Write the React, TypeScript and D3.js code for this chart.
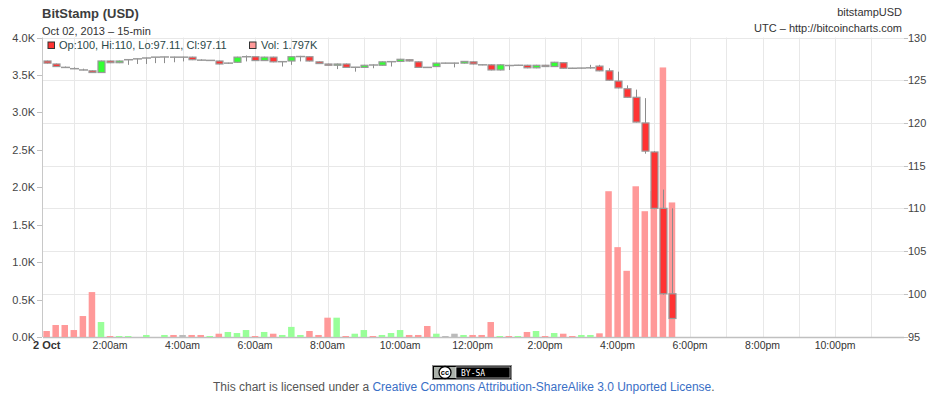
import * as React from 'react';
import * as d3 from 'd3';

// 15-min candles, Oct 02 2013, first one at 00:15 UTC
const firstCandle = Date.UTC(2013, 9, 2, 0, 15);
const candleStep = 15 * 60 * 1000;

const opens = [
  127.25, 126.9, 126.55, 126.45, 126.3, 126.1, 125.9, 127.25, 127.05, 127.35,
  127.45, 127.55, 127.65, 127.7, 127.72, 127.7, 127.7, 127.4, 127.3, 127.25,
  126.95, 127.1, 127.7, 127.75, 127.3, 127.7, 127.15, 127.25, 127.75, 127.75,
  127.15, 126.9, 126.75, 126.9, 126.5, 126.5, 126.8, 126.75, 127.15, 127.2,
  127.4, 127.15, 126.52, 126.6, 127.0, 127.0, 127.0, 127.15, 126.82, 126.8,
  126.2, 126.75, 126.72, 126.75, 126.45, 126.75, 126.6, 127.05, 126.42, 126.4,
  126.4, 126.65, 126.1, 124.9, 124.0, 123.0, 120.0, 116.6, 110.0, 100
];
const highs = [
  127.3, 126.95, 126.6, 126.5, 126.35, 126.15, 127.3, 127.3, 127.3, 127.45,
  127.55, 127.65, 127.7, 127.75, 127.75, 127.75, 127.75, 127.45, 127.35, 127.3,
  127.05, 127.75, 127.9, 127.8, 127.75, 127.75, 127.2, 127.8, 127.85, 127.8,
  127.2, 126.95, 126.95, 126.95, 126.55, 126.8, 126.85, 127.2, 127.2, 127.5,
  127.45, 127.2, 126.55, 127.05, 127.05, 127.05, 127.25, 127.2, 126.85, 126.85,
  126.85, 126.8, 126.8, 126.8, 126.8, 126.8, 127.15, 127.1, 126.45, 126.45,
  126.8, 126.8, 126.4, 126.0, 124.4, 123.9, 122.9, 116.7, 112.2, 110
];
const lows = [
  126.95, 126.55, 126.45, 126.3, 126.15, 125.85, 125.85, 127.0, 127.0, 126.8,
  126.9, 126.9, 127.0, 127.0, 127.1, 127.2, 127.35, 127.3, 127.25, 126.85,
  126.9, 127.05, 127.2, 127.25, 127.25, 127.1, 126.6, 126.8, 127.2, 127.2,
  126.9, 126.7, 126.3, 126.45, 126.0, 126.45, 126.4, 126.7, 126.6, 127.15,
  127.2, 126.45, 126.45, 126.55, 126.95, 126.5, 126.95, 126.85, 126.75, 126.15,
  126.15, 126.2, 126.7, 126.4, 126.4, 126.55, 126.55, 126.35, 126.35, 126.35,
  126.35, 126.05, 124.95, 124.05, 122.95, 120.05, 116.4, 109.9, 99.9, 97.11
];
const closes = [
  127.0, 126.6, 126.5, 126.35, 126.2, 125.9, 127.25, 127.05, 127.25, 127.4,
  127.5, 127.6, 127.7, 127.72, 127.7, 127.7, 127.4, 127.35, 127.32, 126.9,
  127.0, 127.7, 127.75, 127.3, 127.7, 127.15, 127.17, 127.75, 127.77, 127.25,
  126.95, 126.75, 126.9, 126.5, 126.52, 126.75, 126.78, 127.15, 127.17, 127.45,
  127.25, 126.5, 126.5, 127.0, 127.0, 127.0, 127.2, 126.9, 126.8, 126.2,
  126.8, 126.72, 126.75, 126.45, 126.75, 126.6, 127.1, 126.4, 126.4, 126.42,
  126.45, 126.1, 125.0, 124.1, 123.0, 120.1, 116.7, 110.0, 100.0, 97.11
];
const volumes = [
  80, 160, 160, 93, 280, 600, 200, 13, 13, 13,
  0, 27, 0, 27, 27, 27, 27, 27, 13, 44,
  67, 53, 93, 13, 67, 44, 27, 135, 27, 80,
  27, 258, 258, 13, 44, 93, 13, 27, 53, 93,
  27, 27, 147, 44, 13, 44, 27, 27, 27, 200,
  13, 13, 13, 67, 80, 13, 53, 44, 13, 27,
  27, 49, 1947, 1200, 884, 2013, 1680, 1950, 3600, 1797
];

const volumeTicks = [0, 500, 1000, 1500, 2000, 2500, 3000, 3500, 4000];
const priceTicks = [95, 100, 105, 110, 115, 120, 125, 130];

const FONT = '"Liberation Sans", Arial, Helvetica, sans-serif';

export default function App() {
  const width = 943;
  const height = 407;
  const left = 43;
  const right = 904;
  const top = 37.5;
  const bottom = 337;

  const x = d3.scaleUtc()
    .domain([new Date(Date.UTC(2013, 9, 2, 0, 9)), new Date(Date.UTC(2013, 9, 2, 23, 54))])
    .range([left, right]);
  const yPrice = d3.scaleLinear().domain([95, 130]).range([bottom - 0.5, top]);
  const yVol = d3.scaleLinear().domain([0, 4000]).range([bottom, top]);

  const candles = opens.map((o, i) => ({
    t: new Date(firstCandle + i * candleStep),
    o, h: highs[i], l: lows[i], c: closes[i], v: volumes[i]
  }));

  const hourGrid = d3.utcHour.range(new Date(Date.UTC(2013, 9, 2, 1)), new Date(Date.UTC(2013, 9, 3, 0)));
  const labelTicks = d3.utcHour.every(2)!.range(new Date(Date.UTC(2013, 9, 2, 2)), new Date(Date.UTC(2013, 9, 2, 23)));
  const fmtTime = d3.utcFormat('%-I:%M%p');
  const fmtVol = d3.format('.1f');

  const bodyW = 7;
  const barW = 6.5;

  return (
    <div style={{ position: 'absolute', left: 0, top: 0 }}>
      <svg width={width} height={height} style={{ display: 'block', fontFamily: FONT }}>
        <rect width={width} height={height} fill="#fff" />

        {/* header */}
        <text x={42} y={18} fontSize={13} fontWeight="bold" fill="#3d3d3d">BitStamp (USD)</text>
        <text x={42} y={35} fontSize={11} fill="#333">Oct 02, 2013 – 15-min</text>
        <text x={902} y={16} fontSize={11} fill="#333" textAnchor="end">bitstampUSD</text>
        <text x={902} y={32} fontSize={11} fill="#333" textAnchor="end">UTC – http://bitcoincharts.com</text>

        {/* grid */}
        {priceTicks.map(p => (
          <line key={'hg' + p} x1={left} x2={right} y1={Math.round(yPrice(p)) + 0.5} y2={Math.round(yPrice(p)) + 0.5}
            stroke="#e8e8e8" />
        ))}
        {hourGrid.map(t => (
          <line key={'vg' + t.getTime()} x1={Math.round(x(t)) + 0.5} x2={Math.round(x(t)) + 0.5} y1={top} y2={bottom}
            stroke="#e8e8e8" />
        ))}

        {/* axes lines */}
        <line x1={left - 0.5} x2={left - 0.5} y1={top} y2={bottom} stroke="#c8c8c8" />
        <line x1={left} x2={right} y1={bottom + 0.5} y2={bottom + 0.5} stroke="#c0c0c0" strokeWidth={1.5} />

        {/* left (volume) axis */}
        {volumeTicks.map(v => (
          <g key={'vt' + v}>
            <line x1={left - 6} x2={left - 1} y1={Math.round(yVol(v)) + 0.5} y2={Math.round(yVol(v)) + 0.5} stroke="#c0c0c0" />
            <text x={35} y={yVol(v) + 4} fontSize={11} fill="#444" textAnchor="end">{fmtVol(v / 1000)}K</text>
          </g>
        ))}

        {/* right (price) axis */}
        {priceTicks.map(p => (
          <g key={'pt' + p}>
            <line x1={right} x2={right + 4} y1={Math.round(yPrice(p)) + 0.5} y2={Math.round(yPrice(p)) + 0.5} stroke="#c0c0c0" />
            <text x={right + 4} y={yPrice(p) + 4} fontSize={11} fill="#444">{p}</text>
          </g>
        ))}

        {/* x axis labels */}
        <text x={33} y={349} fontSize={11} fontWeight="bold" fill="#333">2 Oct</text>
        {labelTicks.map(t => (
          <text key={'xl' + t.getTime()} x={x(t)} y={349} fontSize={10.5} fill="#333" textAnchor="middle">
            {fmtTime(t).toLowerCase()}
          </text>
        ))}

        {/* volume bars */}
        {candles.filter(d => d.v > 0).map(d => (
          <rect key={'v' + d.t.getTime()} x={x(d.t) - barW / 2} width={barW}
            y={yVol(d.v)} height={yVol(0) - yVol(d.v)}
            fill={d.c > d.o ? '#99ff99' : d.c < d.o ? '#ff9999' : '#bbbbbb'} />
        ))}

        {/* candles */}
        {candles.map(d => {
          const cx = Math.round(x(d.t)) + 0.5;
          const yTop = yPrice(Math.max(d.o, d.c));
          const yBot = yPrice(Math.min(d.o, d.c));
          const flat = yBot - yTop < 1;
          return (
            <g key={'c' + d.t.getTime()}>
              <line x1={cx} x2={cx} y1={yPrice(d.h)} y2={yPrice(d.l)} stroke="#8c8c8c" />
              {flat ? (
                <line x1={cx - 4.5} x2={cx + 4.5} y1={yPrice(d.c)} y2={yPrice(d.c)} stroke="#999" strokeWidth={1.5} />
              ) : (
                <rect x={cx - bodyW / 2} width={bodyW} y={yTop} height={yBot - yTop}
                  fill={d.c > d.o ? '#33ff33' : '#ff3333'} stroke="#999" strokeWidth={1.2} />
              )}
            </g>
          );
        })}

        {/* legend (last candle) */}
        <rect x={48} y={42} width={6.5} height={6.5} fill="#ff3333" stroke="#333" />
        <text x={59} y={48.5} fontSize={11} fill="#2a4848">
          Op:{opens[69]}, Hi:{highs[69]}, Lo:{lows[69]}, Cl:{closes[69]}
        </text>
        <rect x={249.5} y={42} width={6.5} height={6.5} fill="#ff9999" stroke="#333" />
        <text x={261} y={48.5} fontSize={11} fill="#2a4848">Vol: {d3.format('.3f')(volumes[69] / 1000)}K</text>

        {/* CC badge */}
        <g>
          <rect x={432.5} y={365.5} width={79} height={14} fill="#000" stroke="#8a8a8a" />
          <rect x={434} y={367} width={22} height={11} fill="#abb1aa" />
          <rect x={456} y={367} width={54} height={11} fill="#000" stroke="#fff" strokeWidth={0.6} />
          <circle cx={445} cy={372.5} r={6} fill="#fff" stroke="#000" strokeWidth={1.3} />
          <text x={445} y={375.3} fontSize={7.5} fontWeight="bold" textAnchor="middle" fill="#000">cc</text>
          <text x={461} y={375.5} fontSize={8} fontFamily='"DejaVu Sans Mono", monospace' fill="#fff">BY-SA</text>
        </g>

        {/* footer */}
        <text x={213} y={391} fontSize={12} fill="#555">
          This chart is licensed under a <tspan fill="#3a6fc6">Creative Commons Attribution-ShareAlike 3.0 Unported License</tspan>.
        </text>
      </svg>
    </div>
  );
}
